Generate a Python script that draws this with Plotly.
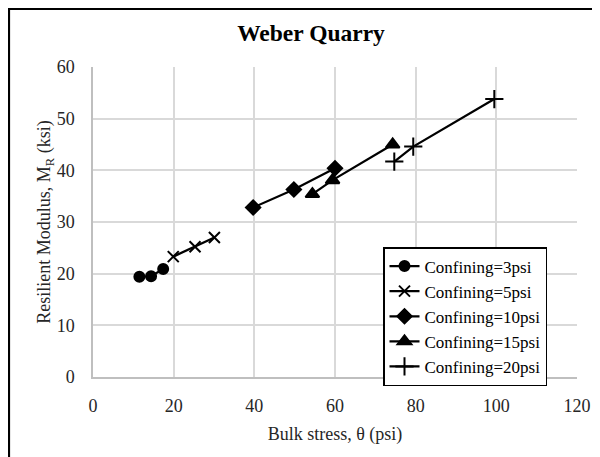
import plotly.graph_objects as go

# Data
series_names = ["Confining=3psi", "Confining=5psi", "Confining=10psi", "Confining=15psi", "Confining=20psi"]
bulk_3 = [11.5, 14.4, 17.4]
mr_3 = [19.4, 19.5, 20.9]
bulk_5 = [19.9, 25.3, 30.1]
mr_5 = [23.3, 25.2, 27.0]
bulk_10 = [39.7, 49.8, 60.0]
mr_10 = [32.8, 36.3, 40.4]
bulk_15 = [54.4, 59.4, 74.3]
mr_15 = [35.4, 38.1, 45.0]
bulk_20 = [74.7, 79.4, 99.5]
mr_20 = [41.7, 44.6, 53.8]

x_ticks = [0, 20, 40, 60, 80, 100, 120]
y_ticks = [0, 10, 20, 30, 40, 50, 60]

FONT = "Liberation Serif"

xs = [bulk_3, bulk_5, bulk_10, bulk_15, bulk_20]
ys = [mr_3, mr_5, mr_10, mr_15, mr_20]
symbols = ["circle", "x-thin", "diamond", "triangle-up", "cross-thin"]
sizes = [10, 11, 11, 12, 13]

fig = go.Figure()
for name, x, y, sym, sz in zip(series_names, xs, ys, symbols, sizes):
    fig.add_trace(go.Scatter(
        x=x, y=y, name=name, mode="lines+markers",
        line=dict(color="black", width=2.25),
        marker=dict(symbol=sym, size=sz, color="black",
                    line=dict(color="black", width=2)),
    ))

# the page body has an 8px margin, so the figure is offset by 8px
OFF = 8
W, H = 600 - OFF, 457 - OFF
PL, PT, PW, PH = 93, 67, 484, 310  # plot area in screen pixels
L, T = PL - OFF, PT - OFF
R, B = W - L - PW, H - T - PH

def px_x(p):
    return (p - PL) / PW

def px_y(p):
    return (PT + PH - p) / PH

fig.update_layout(
    width=W, height=H,
    margin=dict(l=L, r=R, t=T, b=B, autoexpand=False),
    paper_bgcolor="white", plot_bgcolor="white",
    font=dict(family=FONT, color="#262626", size=18),
    title=dict(text="<b>Weber Quarry</b>", font=dict(family=FONT, size=23.5, color="black"),
               x=px_x(311), xref="paper", xanchor="center",
               y=1 - (33 - OFF) / H, yref="container", yanchor="middle"),
    xaxis=dict(range=[0, 120], tickvals=x_ticks, showgrid=True, gridcolor="#d9d9d9", gridwidth=1.5,
               showline=True, linecolor="#bfbfbf", linewidth=1.5, zeroline=False,
               ticks="", ticklabelstandoff=12, automargin=False,
               tickfont=dict(family=FONT, size=18, color="#262626"),
               title=dict(text="Bulk stress, θ (psi)", font=dict(family=FONT, size=18, color="#262626"),
                          standoff=12)),
    yaxis=dict(range=[0, 60], tickvals=y_ticks, showgrid=True, gridcolor="#d9d9d9", gridwidth=1.5,
               showline=True, linecolor="#bfbfbf", linewidth=1.5, zeroline=False,
               ticks="", ticklabelstandoff=13, automargin=False,
               tickfont=dict(family=FONT, size=18, color="#262626"),
               title=dict(text="Resilient Modulus, M<sub>R</sub> (ksi)",
                          font=dict(family=FONT, size=18, color="#262626"), standoff=0)),
    legend=dict(x=px_x(383), y=px_y(247), xanchor="left", yanchor="top",
                bgcolor="white", bordercolor="black", borderwidth=1.5,
                font=dict(family=FONT, size=17, color="black"),
                tracegroupgap=0, itemwidth=30),
    showlegend=True,
)

fig.add_shape(type="rect", xref="paper", yref="paper",
              x0=px_x(9), x1=px_x(615), y0=px_y(475), y1=px_y(9),
              line=dict(color="black", width=2.2), fillcolor="rgba(0,0,0,0)", layer="above")

fig.write_html("out.html")
